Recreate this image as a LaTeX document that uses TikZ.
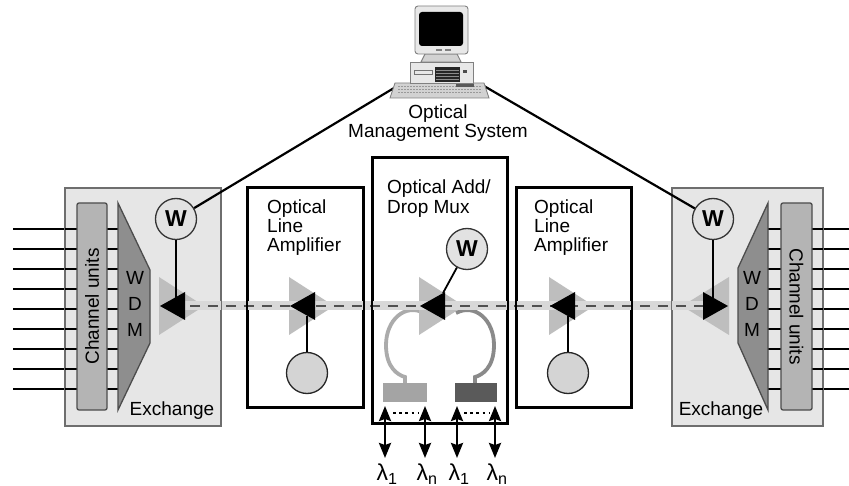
\documentclass[tikz,border=0pt]{standalone}
\usepackage{fontspec}
\setmainfont{Liberation Sans}
\usetikzlibrary{arrows.meta}

\definecolor{exfill}{HTML}{E6E6E6}
\definecolor{exline}{HTML}{6E6E6E}
\definecolor{cufill}{HTML}{B4B4B4}
\definecolor{wdmfill}{HTML}{8E8E8E}
\definecolor{ampgrey}{HTML}{BEBEBE}
\definecolor{bandgrey}{HTML}{D8D8D8}
\definecolor{dashgrey}{HTML}{505050}
\definecolor{wfill}{HTML}{E2E2E2}
\definecolor{monfill}{HTML}{D4D4D4}
\definecolor{loopA}{HTML}{ABABAB}
\definecolor{loopB}{HTML}{8A8A8A}
\definecolor{portA}{HTML}{A4A4A4}
\definecolor{portB}{HTML}{5A5A5A}
\definecolor{pclight}{HTML}{E8E8E8}
\definecolor{pcgrey}{HTML}{D2D2D2}

\tikzset{
  lbl/.style={font=\fontsize{19}{19}\selectfont, inner sep=0pt},
  lamlbl/.style={font=\fontsize{23}{23}\selectfont, inner sep=0pt},
  exbox/.style={draw=exline, line width=1.3pt, fill=exfill, inner sep=0pt},
  exline/.style={draw=exline, line width=1.3pt},
  unitbox/.style={draw=black, line width=2.4pt, fill=white, inner sep=0pt},
  unitline/.style={draw=black, line width=2.4pt},
  cubar/.style={draw=black!70, line width=1.3pt, fill=cufill, rounded corners=2pt, inner sep=0pt},
  wdm/.style={draw=black!70, line width=1.3pt, fill=wdmfill},
  wnode/.style={circle, draw=black!80, line width=1.3pt, fill=wfill, minimum size=41pt,
    inner sep=0pt, font=\fontsize{23}{23}\selectfont\bfseries},
  monnode/.style={circle, draw=black!85, line width=1.3pt, fill=monfill, minimum size=41pt, inner sep=0pt},
  portbox/.style={inner sep=0pt, minimum height=19pt},
  wire/.style={line width=1.8pt},
  mgmt/.style={line width=2.2pt},
  fibredash/.style={draw=dashgrey, line width=2.4pt, dash pattern=on 10pt off 8pt},
  ampshade/.style={fill=ampgrey},
  ampcore/.style={fill=black},
  loopline/.style={line width=3.8pt},
  dbl/.style={line width=2.4pt, {Stealth[length=15pt,width=12pt,inset=2pt]}-{Stealth[length=15pt,width=12pt,inset=2pt]}},
  dots/.style={line width=2.6pt, dash pattern=on 2.6pt off 3.6pt},
}

\begin{document}
\begin{tikzpicture}[x=1pt,y=-1pt]
\useasboundingbox (0,0) rectangle (849,486);

% ---------- boxes ----------
\node[exbox, minimum width=156pt, minimum height=238pt] (exL) at (143,307) {};
\node[exbox, minimum width=151pt, minimum height=238pt] (exR) at (747.5,307) {};
\node[unitbox, minimum width=115pt, minimum height=219pt] (ola1) at (305.5,297.5) {};
\node[unitbox, minimum width=114pt, minimum height=219pt] (ola2) at (574,297.5) {};
\node[unitbox, minimum width=134pt, minimum height=265pt] (oadm) at (440,290.5) {};

% ---------- channel lines, channel units, WDM ----------
\foreach \i in {0,...,8}{
  \draw[wire] (13,229+20*\i) -- (78,229+20*\i);
  \draw[wire] (106,229+20*\i) -- (119,229+20*\i);
  \draw[wire] (767,229+20*\i) -- (782,229+20*\i);
  \draw[wire] (811,229+20*\i) -- (849,229+20*\i);
}
\node[cubar, minimum width=30pt, minimum height=207pt] (cuL) at (92,306.5) {};
\node[cubar, minimum width=31pt, minimum height=207pt] (cuR) at (796.5,306.5) {};
\draw[wdm] (118,203) -- (150,270) -- (150,343) -- (118,410) -- cycle;
\draw[wdm] (768,203) -- (738,268) -- (738,343) -- (768,410) -- cycle;

\node[lbl, rotate=90] (cuLtxt) at (cuL) {Channel units};
\node[lbl, rotate=-90] (cuRtxt) at (cuR) {Channel units};
\node[lbl, align=center, font=\fontsize{19}{26}\selectfont] (wdmL) at (135,304) {W\\D\\M};
\node[lbl, align=center, font=\fontsize{19}{26}\selectfont] (wdmR) at (752,304) {W\\D\\M};
\node[lbl, anchor=base] (exLtxt) at (172,415) {Exchange};
\node[lbl, anchor=base] (exRtxt) at (721,415) {Exchange};

% ---------- add/drop loops and ports ----------
\node[portbox, fill=portA, minimum width=44pt] (portL) at (405,392.5) {};
\node[portbox, fill=portB, minimum width=42pt] (portR) at (476,392.5) {};
\coordinate (dropL) at (405,377);
\coordinate (dropR) at (475,377);
\draw[loopline, loopA] (424,313) .. controls (405,303) and (386,320) .. (386,345)
  .. controls (386,368) and (398,375) .. (dropL) -- (portL.north -| dropL);
\draw[loopline, loopB] (456,313) .. controls (475,303) and (494,320) .. (494,345)
  .. controls (494,368) and (482,375) .. (dropR) -- (portR.north -| dropR);

% ---------- amplifier shading ----------
\foreach \t in {160,290,420,550}
  \fill[ampshade] (\t-1,277) -- (\t+44,306) -- (\t-1,335) -- cycle;
\fill[ampshade] (729,277) -- (682,306) -- (729,335) -- cycle;

% ---------- fibre ----------
\fill[bandgrey] (185,301.5) rectangle (703,310.5);
\draw[fibredash] (190,306) -- (703,306);

% box outlines over the fibre
\draw[exline] (exL.north west) rectangle (exL.south east);
\draw[exline] (exR.north west) rectangle (exR.south east);
\draw[unitline] (ola1.north west) rectangle (ola1.south east);
\draw[unitline] (ola2.north west) rectangle (ola2.south east);
\draw[unitline] (oadm.north west) rectangle (oadm.south east);

% ---------- monitors and their taps ----------
\node[wnode] (wL) at (176,219) {W};
\node[wnode] (wM) at (467,249) {W};
\node[wnode] (wR) at (713,219) {W};
\node[monnode] (mon1) at (307,373) {};
\node[monnode] (mon2) at (568,373) {};

\coordinate (tapL) at (176,298);
\coordinate (tapM) at (443,293);
\coordinate (tapR) at (713,298);
\coordinate (tap1) at (307,316);
\coordinate (tap2) at (568,316);
\draw[wire] (wL) -- (tapL);
\draw[wire] (wM) -- (tapM);
\draw[wire] (wR) -- (tapR);
\draw[wire] (tap1) -- (mon1);
\draw[wire] (tap2) -- (mon2);

% amplifier cores
\foreach \t in {160,290,420,550}
  \fill[ampcore] (\t,306) -- (\t+25,292) -- (\t+25,320) -- cycle;
\fill[ampcore] (728,306) -- (703,292) -- (703,320) -- cycle;

% ---------- unit labels ----------
\node[lbl, anchor=north west, align=left] (ola1txt) at (267,199.5) {Optical\\Line\\Amplifier};
\node[lbl, anchor=north west, align=left] (ola2txt) at (534,199.5) {Optical\\Line\\Amplifier};
\node[lbl, anchor=north west, align=left, font=\fontsize{19}{20}\selectfont] (oadmtxt) at (387,179.5) {Optical Add/\\Drop Mux};

% ---------- management system ----------
\node[inner sep=0pt, minimum width=100pt, minimum height=92pt] (oms) at (439,52) {};
\node[lbl, anchor=north, align=center] (omstxt) at (438,104.5) {Optical\\Management System};
\coordinate (pcL) at (394,88);
\coordinate (pcR) at (484,86);
\draw[mgmt] (pcL) -- (wL);
\draw[mgmt] (pcR) -- (wR);

\begin{scope}[line width=0.9pt]
  % keyboard
  \filldraw[fill=pcgrey, draw=black!50] (395,83) -- (484,83) -- (489,98) -- (390,98) -- cycle;
  \foreach \ky in {86.5,89.5,92.5}
    \draw[black!40, line width=1.8pt, dash pattern=on 1.8pt off 1.2pt] (398,\ky) -- (482,\ky);
  \fill[black!65] (456,84.5) rectangle (474,87.5);
  % system unit
  \filldraw[fill=pclight, draw=black!50] (410,62) rectangle (473,83);
  \fill[black!85] (435,67) rectangle (460,82);
  \foreach \gy in {70,73,76,79}
    \draw[black!45, line width=0.6pt] (436,\gy) -- (459,\gy);
  \draw[black!55] (414,70) rectangle (432,74);
  \fill[black!70] (463,70) rectangle (467,73);
  % stand
  \filldraw[fill=pcgrey, draw=black!50] (425,54) -- (457,54) -- (461,62) -- (421,62) -- cycle;
  % monitor
  \filldraw[fill=pclight, draw=black!50, rounded corners=3pt] (415,6) rectangle (468,54);
  \fill[black, rounded corners=3pt] (419,12) rectangle (463,46);
  \fill[black!50] (436,49) rectangle (442,51);
  \fill[black!50] (445,49) rectangle (451,51);
\end{scope}

% ---------- add/drop channels ----------
\foreach \n/\x in {a/385,b/425,c/457,d/495}{
  \coordinate (top\n) at (\x,406);
  \coordinate (bot\n) at (\x,458);
  \draw[dbl] (top\n) -- (bot\n);
}
\draw[dots] (393,413) -- (419,413);
\draw[dots] (464,413) -- (489,413);
\node[lamlbl] (lama) at (387,474) {λ\textsubscript{1}};
\node[lamlbl] (lamb) at (427,474) {λ\textsubscript{n}};
\node[lamlbl] (lamc) at (459,474) {λ\textsubscript{1}};
\node[lamlbl] (lamd) at (497,474) {λ\textsubscript{n}};
\end{tikzpicture}
\end{document}
